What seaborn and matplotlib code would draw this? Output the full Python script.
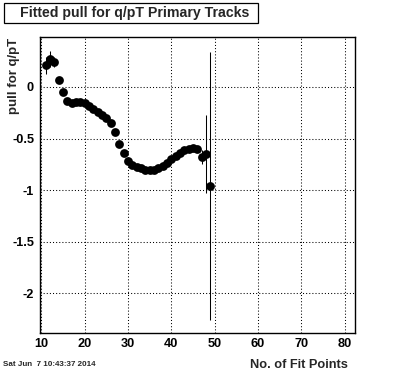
import numpy as np
import pandas as pd
import matplotlib
matplotlib.use("Agg")
import matplotlib.pyplot as plt
import seaborn as sns
from matplotlib.ticker import MultipleLocator, FuncFormatter
from matplotlib.patches import Rectangle

# fit points and fitted pull values
npts = [11, 12, 13, 14, 15, 16, 17, 18, 19, 20,
        21, 22, 23, 24, 25, 26, 27, 28, 29, 30,
        31, 32, 33, 34, 35, 36, 37, 38, 39, 40,
        41, 42, 43, 44, 45, 46, 47, 48, 49]
pull = [0.21, 0.27, 0.24, 0.07, -0.05, -0.14, -0.16, -0.15, -0.15, -0.16,
        -0.18, -0.21, -0.24, -0.27, -0.30, -0.35, -0.44, -0.55, -0.64, -0.72,
        -0.76, -0.78, -0.79, -0.80, -0.80, -0.80, -0.79, -0.77, -0.74, -0.70,
        -0.67, -0.64, -0.61, -0.60, -0.59, -0.60, -0.68, -0.65, -0.96]
err = [0.08, 0.08, 0.05, 0.02, 0.02, 0.02, 0.02, 0.02, 0.02, 0.02,
       0.02, 0.02, 0.02, 0.02, 0.02, 0.02, 0.02, 0.02, 0.02, 0.02,
       0.02, 0.02, 0.02, 0.02, 0.02, 0.02, 0.02, 0.02, 0.02, 0.02,
       0.02, 0.02, 0.02, 0.02, 0.02, 0.03, 0.07, 0.38, 1.30]

df = pd.DataFrame({"npts": npts, "pull": pull, "err": err})

sns.set_theme(style="white")
plt.rcParams['font.family'] = ['Liberation Sans', 'DejaVu Sans']
plt.rcParams['axes.unicode_minus'] = False

fig = plt.figure(figsize=(3.96, 3.72), dpi=100)
ax = fig.add_axes([40 / 396, 1 - 333 / 372, 315 / 396, 296 / 372])

ax.errorbar(df.npts, df.pull, yerr=df.err, fmt='none', ecolor='black',
            elinewidth=0.75, capsize=0, zorder=2)
sns.scatterplot(data=df, x="npts", y="pull", color="black", s=40,
                edgecolor=None, linewidth=0, ax=ax, zorder=3)

ax.set_xlim(9.7, 82.4)
ax.set_ylim(-2.384, 0.484)

ax.xaxis.set_major_locator(MultipleLocator(10))
ax.xaxis.set_minor_locator(MultipleLocator(2))
ax.yaxis.set_major_locator(MultipleLocator(0.5))
ax.yaxis.set_minor_locator(MultipleLocator(0.1))
ax.yaxis.set_major_formatter(FuncFormatter(lambda v, p: "%g" % round(v, 2)))

ax.grid(True, which='major', color='black', linestyle=(0, (1, 2)), linewidth=0.75)
ax.tick_params(which='both', direction='in', top=False, right=False,
               colors='black', width=0.75)
ax.tick_params(which='major', length=6.5)
ax.tick_params(which='minor', length=3.3)
ax.tick_params(axis='y', which='major', pad=4.3)
ax.tick_params(axis='x', which='major', pad=3.6)
for lab in ax.get_xticklabels() + ax.get_yticklabels():
    lab.set_fontweight('bold')
    lab.set_fontsize(9.2)
for sp in ax.spines.values():
    sp.set_color('black')
    sp.set_linewidth(1.0)

ax.set_xlabel("")
ax.set_ylabel("")
fig.text(348 / 396, 1 - 365 / 372, "No. of Fit Points", ha='right', va='center',
         fontsize=9.2, fontweight='bold')
fig.text(14 / 396, 1 - 38 / 372, "pull for q/pT", ha='center', va='top',
         rotation=90, fontsize=9.5, fontweight='bold')

# title box
fig.patches.append(Rectangle((4 / 396, 1 - 22.5 / 372), 254 / 396, 19.5 / 372,
                             transform=fig.transFigure, fill=False,
                             edgecolor='black', linewidth=0.9))
fig.text(135 / 396, 1 - 12.8 / 372, "Fitted pull for q/pT Primary Tracks",
         ha='center', va='center', fontsize=10.2, fontweight='bold')

fig.text(3 / 396, 1 - 365 / 372, "Sat Jun  7 10:43:37 2014", ha='left',
         va='center', fontsize=5.8, fontweight='bold')

fig.savefig("out.png", dpi=100, facecolor='white')
